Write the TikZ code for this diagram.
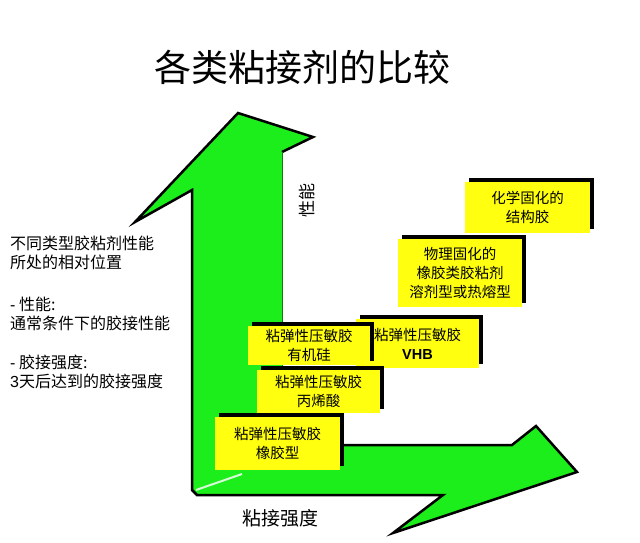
\documentclass[tikz,border=0pt]{standalone}
\usepackage{fontspec}
\setmainfont{Noto Sans CJK SC}
\newfontfamily\latfont{Liberation Sans}
\usetikzlibrary{shadows}
\definecolor{argreen}{RGB}{28,238,28}
\definecolor{argreendark}{RGB}{20,120,20}
\definecolor{boxyellow}{RGB}{255,255,15}
\definecolor{bevel}{RGB}{215,250,215}
\begin{document}
\begin{tikzpicture}[x=1pt,y=-1pt,
  ybox/.style={fill=boxyellow, inner sep=0pt, align=center,
    font=\fontsize{14.5}{19}\selectfont,
    drop shadow={shadow xshift=4pt, shadow yshift=4pt, fill=black, opacity=1}},
  lbl/.style={inner sep=0pt}]
\useasboundingbox[fill=white] (0,0) rectangle (640,542);
% green L arrow
\fill[argreen] (192,490) -- (192,190) -- (135,222) -- (238,113) -- (313,137) -- (282,152)
  -- (282,445) -- (512,445) -- (536,426) -- (577,472) -- (393,533) -- (443,495) -- (197,495) -- cycle;
\draw[black, line width=2.5pt, line join=miter] (282,445) -- (512,445) -- (536,426) -- (577,472)
  -- (393,533) -- (443,495) -- (197,495) -- (192,490) -- (192,190) -- (135,222) -- (238,113)
  -- (313,137) -- (282,152);
\draw[argreendark, line width=1pt] (282,152) -- (282,445);
\draw[bevel, line width=2pt] (196,490) -- (242,474);
% title
\node[lbl, font=\fontsize{37}{40}\selectfont] (title) at (302.5,67) {各类粘接剂的比较};
% axis labels
\node[lbl, rotate=90, font=\fontsize{17}{20}\selectfont] (yl) at (307,200) {性能};
\node[lbl, font=\fontsize{19}{22}\selectfont] (xl) at (280,518) {粘接强度};
% left explanation
\node[lbl, anchor=north west, align=left, font=\fontsize{16}{19}\selectfont] (expl) at (10,236)
  {不同类型胶粘剂性能\\所处的相对位置\\[23pt]
   {\latfont -} 性能:\\通常条件下的胶接性能\\[20pt]
   {\latfont -} 胶接强度:\\{\latfont 3}天后达到的胶接强度};
% boxes
\node[ybox, minimum width=125pt, minimum height=51pt] (chem) at (527.5,207.5) {化学固化的\\结构胶};
\node[ybox, minimum width=124pt, minimum height=68pt] (phys) at (460,273) {物理固化的\\橡胶类胶粘剂\\溶剂型或热熔型};
\node[ybox, minimum width=123pt, minimum height=49pt] (vhb) at (417.5,343.5) {粘弹性压敏胶\\{\latfont\bfseries VHB}};
\node[ybox, minimum width=122pt, minimum height=39pt] (sil) at (309,345.5) {粘弹性压敏胶\\有机硅};
\node[ybox, minimum width=123pt, minimum height=43pt] (acr) at (318.5,391.5) {粘弹性压敏胶\\丙烯酸};
\node[ybox, minimum width=125pt, minimum height=53pt] (rub) at (277.5,443) {粘弹性压敏胶\\橡胶型};
\end{tikzpicture}
\end{document}
